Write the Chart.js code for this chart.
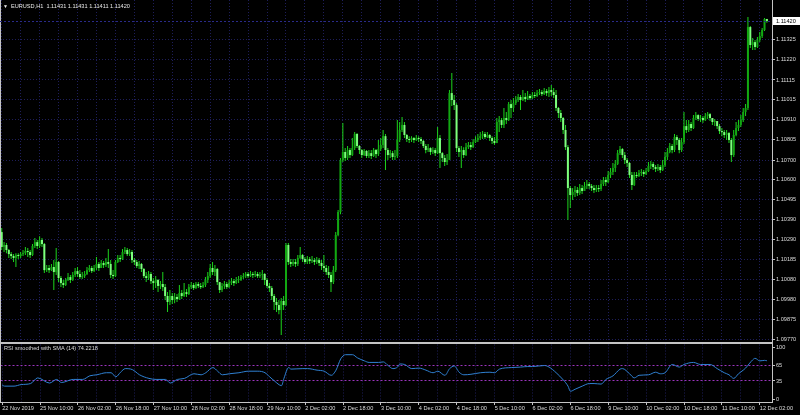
<!DOCTYPE html>
<html><head><meta charset="utf-8">
<script src="https://cdn.jsdelivr.net/npm/chart.js@4.4.1/dist/chart.umd.min.js"></script>
<style>
html,body{margin:0;padding:0;background:#000;width:800px;height:415px;overflow:hidden}
#main{position:absolute;left:0;top:0}
#rsi{position:absolute;left:0;top:344px}
</style></head><body>
<canvas id="main" width="800" height="344"></canvas>
<canvas id="rsi" width="800" height="71"></canvas>
<script>
// ---------- DATA ----------
const symbol = 'EURUSD', timeframe = 'H1';
const firstOpen = 1.10327;
const closes = [
1.10250,1.10260,1.10234,1.10213,1.10203,1.10193,1.10208,1.10203,1.10213,1.10218,
1.10229,1.10224,1.10208,1.10255,1.10275,1.10255,1.10286,1.10265,1.10130,1.10141,
1.10130,1.10146,1.10120,1.10172,1.10089,1.10063,1.10053,1.10079,1.10094,1.10079,
1.10105,1.10125,1.10110,1.10094,1.10099,1.10110,1.10130,1.10141,1.10125,1.10141,
1.10162,1.10141,1.10167,1.10156,1.10172,1.10162,1.10105,1.10099,1.10172,1.10193,
1.10187,1.10224,1.10234,1.10213,1.10224,1.10182,1.10172,1.10151,1.10162,1.10136,
1.10099,1.10089,1.10110,1.10073,1.10063,1.10079,1.10048,1.10058,1.10042,1.09996,
1.09965,1.09996,1.09975,1.09991,1.09980,1.10011,1.09996,1.10016,1.10006,1.10042,
1.10053,1.10037,1.10058,1.10048,1.10042,1.10053,1.10079,1.10099,1.10141,1.10120,
1.10136,1.10068,1.10027,1.10048,1.10058,1.10042,1.10063,1.10073,1.10063,1.10079,
1.10079,1.10094,1.10099,1.10110,1.10099,1.10110,1.10105,1.10110,1.10099,1.10105,
1.10110,1.10079,1.10048,1.10037,1.09996,1.09965,1.09949,1.09923,1.09970,1.09949,
1.10260,1.10172,1.10162,1.10172,1.10162,1.10193,1.10208,1.10187,1.10172,1.10187,
1.10177,1.10182,1.10172,1.10182,1.10167,1.10151,1.10141,1.10120,1.10105,1.10068,
1.10130,1.10312,1.10431,1.10700,1.10742,1.10711,1.10752,1.10726,1.10762,1.10835,
1.10773,1.10752,1.10726,1.10747,1.10721,1.10736,1.10721,1.10752,1.10731,1.10757,
1.10778,1.10824,1.10752,1.10726,1.10736,1.10716,1.10721,1.10804,1.10856,1.10882,
1.10830,1.10809,1.10804,1.10814,1.10804,1.10814,1.10809,1.10799,1.10773,1.10752,
1.10762,1.10742,1.10752,1.10736,1.10814,1.10736,1.10711,1.10690,1.10700,1.11047,
1.11011,1.10985,1.10762,1.10742,1.10752,1.10726,1.10767,1.10778,1.10767,1.10793,
1.10804,1.10814,1.10824,1.10835,1.10819,1.10830,1.10814,1.10799,1.10788,1.10897,
1.10907,1.10882,1.10918,1.10907,1.10990,1.10970,1.10995,1.11011,1.11027,1.11011,
1.11027,1.11016,1.11032,1.11021,1.11037,1.11032,1.11047,1.11052,1.11042,1.11058,
1.11047,1.11063,1.11052,1.11037,1.10970,1.10944,1.10918,1.10856,1.10767,1.10555,
1.10519,1.10535,1.10545,1.10529,1.10555,1.10540,1.10566,1.10576,1.10566,1.10555,
1.10545,1.10555,1.10550,1.10576,1.10597,1.10586,1.10623,1.10638,1.10659,1.10680,
1.10736,1.10757,1.10726,1.10700,1.10685,1.10623,1.10571,1.10623,1.10617,1.10633,
1.10638,1.10628,1.10643,1.10669,1.10680,1.10664,1.10654,1.10664,1.10648,1.10674,
1.10716,1.10742,1.10773,1.10752,1.10819,1.10804,1.10752,1.10793,1.10876,1.10856,
1.10887,1.10866,1.10918,1.10933,1.10913,1.10918,1.10907,1.10928,1.10938,1.10918,
1.10897,1.10902,1.10876,1.10850,1.10845,1.10830,1.10840,1.10804,1.10726,1.10830,
1.10866,1.10882,1.10907,1.10949,1.10970,1.11389,1.11296,1.11311,1.11286,1.11322,
1.11342,1.11374,1.11431,1.11420];
const highs = [
1.10348,1.10275,1.10270,1.10239,1.10224,1.10213,1.10218,1.10218,1.10224,1.10234,
1.10250,1.10244,1.10234,1.10265,1.10296,1.10286,1.10306,1.10296,1.10270,1.10156,
1.10156,1.10162,1.10182,1.10244,1.10177,1.10099,1.10079,1.10089,1.10115,1.10105,
1.10120,1.10141,1.10146,1.10130,1.10120,1.10125,1.10146,1.10156,1.10151,1.10156,
1.10198,1.10172,1.10182,1.10177,1.10193,1.10239,1.10182,1.10130,1.10182,1.10208,
1.10208,1.10239,1.10250,1.10244,1.10239,1.10234,1.10193,1.10182,1.10177,1.10167,
1.10141,1.10120,1.10125,1.10120,1.10089,1.10099,1.10084,1.10073,1.10120,1.10058,
1.10016,1.10027,1.10011,1.10011,1.10006,1.10053,1.10027,1.10063,1.10032,1.10058,
1.10068,1.10063,1.10068,1.10068,1.10063,1.10068,1.10094,1.10120,1.10162,1.10172,
1.10156,1.10141,1.10068,1.10063,1.10073,1.10068,1.10079,1.10089,1.10084,1.10094,
1.10099,1.10105,1.10115,1.10120,1.10120,1.10125,1.10120,1.10125,1.10120,1.10120,
1.10130,1.10115,1.10089,1.10063,1.10048,1.10006,1.09985,1.09975,1.09985,1.09996,
1.10270,1.10270,1.10187,1.10187,1.10187,1.10208,1.10250,1.10213,1.10198,1.10203,
1.10198,1.10203,1.10193,1.10198,1.10193,1.10182,1.10208,1.10156,1.10151,1.10120,
1.10151,1.10327,1.10441,1.10711,1.10892,1.10762,1.10773,1.10762,1.10814,1.10845,
1.10840,1.10778,1.10757,1.10757,1.10752,1.10752,1.10752,1.10762,1.10757,1.10804,
1.10814,1.10856,1.10835,1.10762,1.10752,1.10747,1.10752,1.10907,1.10897,1.10923,
1.10897,1.10835,1.10824,1.10824,1.10819,1.10830,1.10824,1.10819,1.10804,1.10783,
1.10783,1.10767,1.10767,1.10762,1.10871,1.10830,1.10742,1.10726,1.10731,1.11063,
1.11151,1.11037,1.10995,1.10773,1.10773,1.10767,1.10788,1.10793,1.10793,1.10809,
1.10824,1.10835,1.10845,1.10850,1.10845,1.10845,1.10835,1.10824,1.10819,1.10918,
1.10928,1.10918,1.10970,1.10949,1.11001,1.11011,1.11021,1.11032,1.11042,1.11037,
1.11063,1.11047,1.11058,1.11042,1.11052,1.11052,1.11063,1.11068,1.11063,1.11073,
1.11068,1.11078,1.11089,1.11073,1.11063,1.10975,1.10959,1.10923,1.10882,1.10778,
1.10566,1.10555,1.10566,1.10560,1.10576,1.10571,1.10586,1.10597,1.10586,1.10576,
1.10571,1.10571,1.10571,1.10597,1.10612,1.10612,1.10643,1.10659,1.10685,1.10700,
1.10752,1.10773,1.10762,1.10742,1.10711,1.10690,1.10638,1.10638,1.10638,1.10648,
1.10654,1.10648,1.10659,1.10690,1.10695,1.10690,1.10674,1.10680,1.10674,1.10700,
1.10742,1.10762,1.10788,1.10783,1.10835,1.10830,1.10814,1.10814,1.10949,1.10907,
1.10907,1.10897,1.10933,1.10949,1.10938,1.10933,1.10928,1.10944,1.10949,1.10944,
1.10918,1.10913,1.10902,1.10887,1.10866,1.10856,1.10856,1.10845,1.10814,1.10856,
1.10897,1.10907,1.10933,1.10970,1.10990,1.11441,1.11394,1.11332,1.11322,1.11337,
1.11363,1.11384,1.11436,1.11431];
const lows = [
1.10234,1.10224,1.10218,1.10193,1.10187,1.10172,1.10146,1.10187,1.10193,1.10203,
1.10208,1.10198,1.10193,1.10203,1.10244,1.10239,1.10244,1.10250,1.10115,1.10120,
1.10115,1.10125,1.10027,1.10105,1.10068,1.10042,1.10037,1.10048,1.10073,1.10063,
1.10073,1.10094,1.10094,1.10084,1.10084,1.10089,1.10105,1.10120,1.10115,1.10120,
1.10130,1.10125,1.10141,1.10141,1.10146,1.10141,1.10089,1.10084,1.10094,1.10167,
1.10172,1.10182,1.10213,1.10203,1.10203,1.10167,1.10156,1.10141,1.10136,1.10120,
1.10089,1.10068,1.10079,1.10058,1.10027,1.10037,1.10016,1.10032,1.10022,1.09975,
1.09913,1.09949,1.09954,1.09959,1.09965,1.09975,1.09980,1.09991,1.09991,1.10001,
1.10032,1.10027,1.10032,1.10037,1.10032,1.10037,1.10042,1.10063,1.10089,1.10105,
1.10099,1.10053,1.10011,1.10016,1.10032,1.10032,1.10037,1.10053,1.10048,1.10058,
1.10063,1.10073,1.10084,1.10089,1.10089,1.10094,1.10089,1.10094,1.10089,1.10089,
1.10079,1.10053,1.10037,1.10016,1.09975,1.09923,1.09913,1.09902,1.09794,1.09923,
1.09944,1.10156,1.10146,1.10151,1.10146,1.10151,1.10187,1.10172,1.10162,1.10162,
1.10162,1.10167,1.10156,1.10162,1.10151,1.10130,1.10120,1.10105,1.10089,1.10016,
1.10058,1.10120,1.10306,1.10420,1.10690,1.10695,1.10700,1.10711,1.10721,1.10752,
1.10762,1.10731,1.10711,1.10721,1.10711,1.10711,1.10705,1.10716,1.10711,1.10721,
1.10747,1.10762,1.10648,1.10700,1.10711,1.10700,1.10700,1.10711,1.10793,1.10845,
1.10814,1.10793,1.10788,1.10793,1.10788,1.10799,1.10793,1.10783,1.10762,1.10736,
1.10742,1.10726,1.10731,1.10721,1.10731,1.10659,1.10690,1.10669,1.10674,1.10700,
1.10980,1.10959,1.10742,1.10716,1.10659,1.10711,1.10721,1.10757,1.10752,1.10762,
1.10788,1.10793,1.10804,1.10809,1.10809,1.10814,1.10799,1.10783,1.10778,1.10788,
1.10845,1.10866,1.10866,1.10887,1.10902,1.10918,1.10949,1.10985,1.11001,1.10959,
1.11006,1.11001,1.11011,1.11011,1.11016,1.11021,1.11027,1.11037,1.11032,1.11037,
1.11032,1.11027,1.11032,1.11021,1.10954,1.10918,1.10897,1.10835,1.10752,1.10389,
1.10452,1.10493,1.10509,1.10514,1.10519,1.10524,1.10545,1.10550,1.10550,1.10540,
1.10529,1.10535,1.10535,1.10540,1.10566,1.10566,1.10581,1.10607,1.10623,1.10638,
1.10674,1.10726,1.10711,1.10680,1.10664,1.10607,1.10545,1.10566,1.10607,1.10612,
1.10617,1.10612,1.10623,1.10638,1.10654,1.10648,1.10638,1.10643,1.10633,1.10643,
1.10664,1.10700,1.10736,1.10736,1.10742,1.10778,1.10736,1.10742,1.10783,1.10840,
1.10845,1.10850,1.10861,1.10907,1.10902,1.10897,1.10892,1.10902,1.10913,1.10902,
1.10882,1.10876,1.10861,1.10835,1.10824,1.10814,1.10804,1.10788,1.10690,1.10716,
1.10824,1.10850,1.10871,1.10897,1.10928,1.10959,1.11280,1.11270,1.11270,1.11280,
1.11311,1.11332,1.11368,1.11411];
const priceTicks = [1.09770,1.09875,1.09980,1.10080,1.10185,1.10290,1.10390,1.10495,
                    1.10600,1.10700,1.10805,1.10910,1.11015,1.11115,1.11220,1.11325];
const dateLabels = ['22 Nov 2019','25 Nov 10:00','26 Nov 02:00','26 Nov 18:00','27 Nov 10:00',
  '28 Nov 02:00','28 Nov 18:00','29 Nov 10:00','2 Dec 02:00','2 Dec 18:00','3 Dec 10:00',
  '4 Dec 02:00','4 Dec 18:00','5 Dec 10:00','6 Dec 02:00','6 Dec 18:00','9 Dec 10:00',
  '10 Dec 02:00','10 Dec 18:00','11 Dec 10:00','12 Dec 02:00'];
const rsiName = 'RSI smoothed with SMA (14)';
const rsiBars = [0,1,5,8,12,15,20,23,25,30,34,37,40,44,46,48,50,52,55,58,62,65,69,71,74,77,81,84,86,89,
  91,93,96,100,104,108,111,113,115,118,119,121,122,127,129,133,136,139,141,143,145,148,150,153,155,159,
  161,163,165,167,168,170,173,176,179,182,184,187,189,191,193,195,198,202,206,208,210,215,219,222,224,
  229,231,234,237,239,240,242,245,248,250,253,255,258,261,262,265,267,269,273,276,278,280,283,286,288,
  292,295,299,302,305,307,309,311,313,314,317,318,320,322,323];
const rsiValues = [27,25,25,28,30,41,31,38,32,38,38,45,47,51,51,43,52,59,57,47,40,38,38,31,38,40,49,47,51,61,
  54,47,49,51,54,54,51,43,35,26,40,61,58,59,59,56,54,46,56,78,86,86,80,74,71,71,72,65,59,62,68,67,59,60,
  56,51,54,46,59,64,52,47,48,51,52,51,58,61,62,63,63,65,62,51,37,25,15,19,25,30,30,29,38,45,58,59,49,41,
  46,47,52,49,51,67,62,67,71,67,67,59,51,47,40,49,56,60,76,79,74,75,74.2218];
const rsiTicks = [0,35,65,100];
const rsiLevels = [65,35];

// ---------- STYLE / LAYOUT ----------
const X0 = 1.7, PX = 2.369;          // page x of bar 0, pixels per bar
const P0 = 1.115292, PY = 0.0000518; // price at page y 0, price per pixel
const R0 = 399, RY = 0.52;           // page y of RSI 0, pixels per RSI unit
const RSI_TOP = 344;
const FONTFAM = "'Liberation Sans', Arial, sans-serif";
const FONT = {family: FONTFAM, size: 5.6};
const GRID = '#1e1e5a', AXIS = '#c4c4c4', TXT = '#dcdcdc', LEVEL = '#9a34bc';
const UP = '#12a812', DN = '#7dff7d', WICK = '#1cd41c', RSICOL = '#2f80d2';
const gridBars = []; for (let b = 0; b <= 320; b += 8) gridBars.push(b);

const opens = closes.map((c, i) => i === 0 ? firstOpen : closes[i - 1]);
const n = closes.length;

const mainOverlay = {
  id: 'mainOverlay',
  afterDraw(ch) {
    const c = ch.ctx, a = ch.chartArea, ys = ch.scales.y;
    c.save();
    c.strokeStyle = AXIS; c.lineWidth = 1;
    c.beginPath(); c.moveTo(0.5, 0); c.lineTo(0.5, a.bottom); c.stroke();
    const last = closes[n - 1];
    const py = Math.round(ys.getPixelForValue(last)) + 0.5;
    c.strokeStyle = '#2a2a88'; c.setLineDash([2, 2]);
    c.beginPath(); c.moveTo(a.left, py); c.lineTo(a.right, py); c.stroke();
    c.setLineDash([]);
    c.fillStyle = '#ffffff'; c.fillRect(a.right + 1, py - 4.5, 27, 8);
    c.fillStyle = '#000000'; c.font = '5.6px ' + FONTFAM; c.textBaseline = 'middle'; c.textAlign = 'left';
    c.fillText(last.toFixed(5), a.right + 4, py);
    c.fillStyle = '#e8e8e8';
    c.font = '5px ' + FONTFAM; c.fillText('\u25BC', 3, 6.2);
    c.font = '5.6px ' + FONTFAM;
    const o = opens[n - 1], h = highs[n - 1], l = lows[n - 1];
    c.fillText(symbol + ',' + timeframe + '  ' + [o, h, l, last].map(v => v.toFixed(5)).join(' '), 11, 6);
    c.restore();
  }
};
const rsiOverlay = {
  id: 'rsiOverlay',
  afterDraw(ch) {
    const c = ch.ctx, a = ch.chartArea;
    c.save();
    c.strokeStyle = AXIS; c.lineWidth = 1;
    c.beginPath(); c.moveTo(0.5, 0); c.lineTo(0.5, a.bottom); c.stroke();
    c.fillStyle = TXT; c.font = '5.6px ' + FONTFAM; c.textBaseline = 'middle'; c.textAlign = 'left';
    c.fillText(rsiName + ' ' + rsiValues[rsiValues.length - 1].toFixed(4), 4, 4.5);
    c.restore();
  }
};

const mainChart = new Chart(document.getElementById('main'), {
  type: 'bar',
  data: { datasets: [
    { data: closes.map((c, i) => ({x: i, y: [opens[i], c]})),
      backgroundColor: ctx => closes[ctx.dataIndex] >= opens[ctx.dataIndex] ? UP : DN,
      barThickness: 2, minBarLength: 1, grouped: false, borderWidth: 0, inflateAmount: 0 },
    { data: closes.map((c, i) => ({x: i, y: [lows[i], highs[i]]})),
      backgroundColor: WICK, barThickness: 1, grouped: false, borderWidth: 0, inflateAmount: 0 }
  ]},
  options: {
    responsive: false, animation: false, events: [],
    layout: { padding: 0 },
    plugins: { legend: {display: false}, tooltip: {enabled: false} },
    scales: {
      x: { type: 'linear', offset: false, bounds: 'data', min: (0 - X0) / PX, max: (772 - X0) / PX,
        afterBuildTicks: s => { s.ticks = gridBars.map(v => ({value: v})); },
        ticks: { display: false },
        grid: { color: GRID, drawTicks: false, offset: false, lineWidth: 1 },
        border: { display: true, color: AXIS, width: 2, dash: [1, 2] },
        afterFit: s => { s.height = 1; s.paddingLeft = 0; s.paddingRight = 0; } },
      y: { type: 'linear', position: 'right', beginAtZero: false, bounds: 'data',
        min: P0 - PY * 343, max: P0,
        afterBuildTicks: s => { s.ticks = priceTicks.map(v => ({value: v})); },
        ticks: { color: TXT, font: FONT, padding: 1, autoSkip: false, callback: v => Number(v).toFixed(5) },
        grid: { color: GRID, tickColor: AXIS, tickLength: 3, lineWidth: 1 },
        border: { display: true, color: AXIS, width: 1, dash: [1, 2] },
        afterFit: s => { s.width = 28; s.paddingTop = 0; s.paddingBottom = 0; } }
    }
  },
  plugins: [mainOverlay]
});

const rsiChart = new Chart(document.getElementById('rsi'), {
  type: 'line',
  data: { datasets: [{
    data: rsiBars.map((b, k) => ({x: b, y: rsiValues[k]})),
    borderColor: RSICOL, borderWidth: 1, pointRadius: 0, cubicInterpolationMode: 'monotone', fill: false
  }]},
  options: {
    responsive: false, animation: false, events: [],
    layout: { padding: 0 },
    plugins: { legend: {display: false}, tooltip: {enabled: false} },
    scales: {
      x: { type: 'linear', offset: false, bounds: 'data', min: (0 - X0) / PX, max: (772 - X0) / PX,
        afterBuildTicks: s => { s.ticks = gridBars.map(v => ({value: v})); },
        ticks: { autoSkip: false, maxRotation: 0, minRotation: 0, align: 'start', padding: 0,
                 color: TXT, font: FONT,
                 callback: v => (v % 16 === 0 ? dateLabels[v / 16] : '') },
        grid: { color: GRID, tickLength: 3, offset: false,
                tickColor: c => (c.tick && c.tick.value % 16 === 0 ? AXIS : 'rgba(0,0,0,0)') },
        border: { display: true, color: AXIS, width: 1, dash: [1, 2] },
        afterFit: s => { s.height = 13; s.paddingLeft = 0; s.paddingRight = 0; } },
      y: { type: 'linear', position: 'right', beginAtZero: false, bounds: 'data',
        min: (R0 - (RSI_TOP + 58)) / RY, max: (R0 - RSI_TOP) / RY,
        afterBuildTicks: s => { s.ticks = rsiTicks.map(v => ({value: v})); },
        ticks: { color: TXT, font: FONT, padding: 1, autoSkip: false },
        grid: { color: c => (c.tick && rsiLevels.includes(c.tick.value) ? LEVEL : 'rgba(0,0,0,0)'),
                tickColor: AXIS, tickLength: 3 },
        border: { display: true, color: AXIS, width: 1, dash: [2, 2] },
        afterFit: s => { s.width = 28; s.paddingTop = 0; s.paddingBottom = 0; } }
    }
  },
  plugins: [rsiOverlay]
});

// second pass: align scales to the real chart areas
function fitX(ch) {
  const a = ch.chartArea, s = ch.options.scales;
  s.x.min = (a.left - X0) / PX; s.x.max = (a.right - X0) / PX;
}
fitX(mainChart);
mainChart.options.scales.y.max = P0 - PY * mainChart.chartArea.top;
mainChart.options.scales.y.min = P0 - PY * mainChart.chartArea.bottom;
mainChart.update('none');
fitX(rsiChart);
rsiChart.options.scales.y.max = (R0 - (RSI_TOP + rsiChart.chartArea.top)) / RY;
rsiChart.options.scales.y.min = (R0 - (RSI_TOP + rsiChart.chartArea.bottom)) / RY;
rsiChart.update('none');
</script>
</body></html>
